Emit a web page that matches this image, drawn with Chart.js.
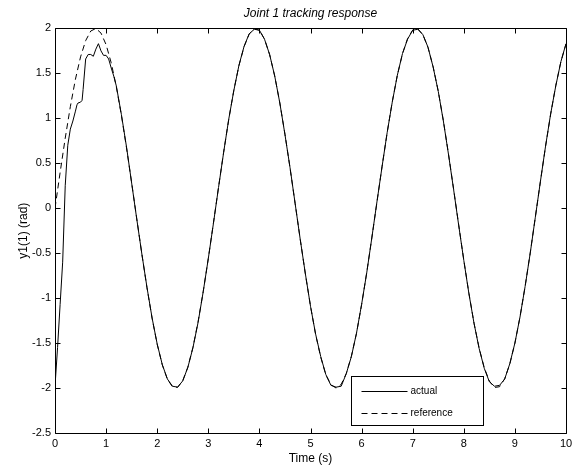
<!DOCTYPE html>
<html>
<head>
<meta charset="utf-8">
<script src="https://cdn.jsdelivr.net/npm/chart.js@4"></script>
<style>
html,body{margin:0;padding:0;background:#fff;}
#wrap{width:577px;height:472px;position:relative;}
</style>
</head>
<body>
<div id="wrap"><canvas id="c" width="577" height="472"></canvas></div>
<script>
const chartTitle = "Joint 1 tracking response";
const xTitle = "Time (s)";
const yTitle = "y1(1) (rad)";
const seriesNames = ["actual", "reference"];
const xTicks = [0,1,2,3,4,5,6,7,8,9,10];
const yTicks = [-2.5,-2,-1.5,-1,-0.5,0,0.5,1,1.5,2];

const refTime = [0,0.1,0.2,0.3,0.4,0.5,0.6,0.7,0.8,0.9,1,1.1,1.2,1.3,1.4,1.5,1.6,1.7,1.8,1.9,2,2.1,2.2,2.3,2.4,2.5,2.6,2.7,2.8,2.9,3,3.1,3.2,3.3,3.4,3.5,3.6,3.7,3.8,3.9,4,4.1,4.2,4.3,4.4,4.5,4.6,4.7,4.8,4.9,5,5.1,5.2,5.3,5.4,5.5,5.6,5.7,5.8,5.9,6,6.1,6.2,6.3,6.4,6.5,6.6,6.7,6.8,6.9,7,7.1,7.2,7.3,7.4,7.5,7.6,7.7,7.8,7.9,8,8.1,8.2,8.3,8.4,8.5,8.6,8.7,8.8,8.9,9,9.1,9.2,9.3,9.4,9.5,9.6,9.7,9.8,9.9,10];
const refValues = [0,0.397,0.779,1.129,1.435,1.683,1.864,1.971,1.999,1.948,1.819,1.617,1.351,1.031,0.670,0.282,-0.117,-0.511,-0.885,-1.224,-1.514,-1.743,-1.903,-1.987,-1.992,-1.918,-1.767,-1.546,-1.263,-0.929,-0.559,-0.166,0.233,0.623,0.988,1.314,1.587,1.797,1.936,1.997,1.979,1.881,1.709,1.469,1.170,0.824,0.446,0.050,-0.349,-0.733,-1.088,-1.405,-1.656,-1.852,-1.962,-2.000,-1.960,-1.839,-1.646,-1.392,-1.073,-0.716,-0.331,0.067,0.463,0.840,1.184,1.481,1.718,1.887,1.981,1.996,1.930,1.787,1.573,1.301,0.974,0.604,0.215,-0.185,-0.577,-0.946,-1.278,-1.556,-1.774,-1.922,-1.994,-1.985,-1.898,-1.733,-1.501,-1.208,-0.869,-0.496,-0.099,0.301,0.688,1.047,1.364,1.629,1.826];

const actEarlyTime = [0,0.05,0.1,0.15,0.2,0.25,0.3,0.35,0.4,0.43,0.45,0.5,0.53,0.55,0.6,0.65,0.7,0.75,0.8,0.85,0.9,0.95,1.0,1.05,1.1,1.15];
const actEarlyValues = [-1.98,-1.55,-1.07,-0.6,0.25,0.7,0.88,0.97,1.08,1.15,1.17,1.18,1.2,1.32,1.66,1.71,1.71,1.69,1.77,1.83,1.75,1.70,1.70,1.66,1.56,1.47];
const actLateTime = [1.2,1.3,1.4,1.5,1.6,1.7,1.8,1.9,2,2.1,2.2,2.3,2.4,2.5,2.6,2.7,2.8,2.9,3,3.1,3.2,3.3,3.4,3.5,3.6,3.7,3.8,3.9,4,4.1,4.2,4.3,4.4,4.5,4.6,4.7,4.8,4.9,5,5.1,5.2,5.3,5.4,5.5,5.6,5.7,5.8,5.9,6,6.1,6.2,6.3,6.4,6.5,6.6,6.7,6.8,6.9,7,7.1,7.2,7.3,7.4,7.5,7.6,7.7,7.8,7.9,8,8.1,8.2,8.3,8.4,8.5,8.6,8.7,8.8,8.9,9,9.1,9.2,9.3,9.4,9.5,9.6,9.7,9.8,9.9,10];
const actLateValues = [1.36,1.04,0.68,0.28,-0.12,-0.51,-0.88,-1.22,-1.51,-1.74,-1.90,-1.98,-1.99,-1.92,-1.77,-1.55,-1.27,-0.93,-0.56,-0.17,0.23,0.62,0.99,1.31,1.59,1.80,1.94,1.99,1.98,1.88,1.71,1.47,1.17,0.82,0.45,0.05,-0.35,-0.73,-1.09,-1.40,-1.65,-1.85,-1.97,-1.99,-1.98,-1.84,-1.65,-1.39,-1.07,-0.72,-0.33,0.07,0.46,0.84,1.18,1.48,1.72,1.88,1.98,1.99,1.93,1.79,1.57,1.30,0.97,0.60,0.21,-0.19,-0.58,-0.95,-1.28,-1.56,-1.78,-1.93,-1.98,-1.97,-1.90,-1.73,-1.50,-1.21,-0.87,-0.50,-0.10,0.30,0.69,1.05,1.36,1.63,1.83];

const actTime = actEarlyTime.concat(actLateTime);
const actValues = actEarlyValues.concat(actLateValues);
const toPts = (xs, ys) => xs.map((x, i) => ({x: x, y: ys[i]}));

const FONT = "'Liberation Sans', Arial, Helvetica, sans-serif";

const framePlugin = {
  id: 'frame',
  afterDatasetsDraw(chart) {
    const ctx = chart.ctx, a = chart.chartArea;
    const xs = chart.scales.x, ys = chart.scales.y;
    ctx.save();
    ctx.strokeStyle = '#000';
    ctx.lineWidth = 1;
    ctx.setLineDash([]);
    ctx.beginPath();
    const L = Math.round(a.left) + 0.5, R = Math.round(a.right) + 0.5;
    const T = Math.round(a.top) + 0.5, B = Math.round(a.bottom) + 0.5;
    ctx.rect(L, T, R - L, B - T);
    const tl = 5;
    xTicks.forEach(v => {
      const px = Math.round(xs.getPixelForValue(v)) + 0.5;
      ctx.moveTo(px, B); ctx.lineTo(px, B - tl);
      ctx.moveTo(px, T); ctx.lineTo(px, T + tl);
    });
    yTicks.forEach(v => {
      const py = Math.round(ys.getPixelForValue(v)) + 0.5;
      ctx.moveTo(L, py); ctx.lineTo(L + tl, py);
      ctx.moveTo(R, py); ctx.lineTo(R - tl, py);
    });
    ctx.stroke();

    // legend box
    const bx = Math.round(a.left + 296) + 0.5, by = Math.round(a.top + 348) + 0.5;
    const bw = 132, bh = 49;
    ctx.fillStyle = '#fff';
    ctx.fillRect(bx, by, bw, bh);
    ctx.strokeRect(bx, by, bw, bh);
    ctx.font = '10px ' + FONT;
    ctx.fillStyle = '#000';
    ctx.textBaseline = 'middle';
    ctx.textAlign = 'left';
    chart.data.datasets.forEach((ds, i) => {
      const yy = Math.round(by + 14 + i * 22) + 0.5;
      ctx.beginPath();
      ctx.setLineDash(ds.borderDash || []);
      ctx.moveTo(bx + 10, yy);
      ctx.lineTo(bx + 56, yy);
      ctx.stroke();
      ctx.setLineDash([]);
      ctx.fillText(ds.label, bx + 59, yy);
    });
    ctx.restore();
  }
};

new Chart(document.getElementById('c'), {
  type: 'line',
  data: {
    datasets: [
      { label: seriesNames[0], data: toPts(actTime, actValues), borderColor: '#000', borderWidth: 1, pointRadius: 0, tension: 0, fill: false },
      { label: seriesNames[1], data: toPts(refTime, refValues), borderColor: '#000', borderWidth: 1, borderDash: [6, 4], pointRadius: 0, tension: 0, fill: false }
    ]
  },
  options: {
    responsive: false,
    animation: false,
    devicePixelRatio: 1,
    layout: { padding: { left: 0, right: 11, top: 0, bottom: 0 } },
    plugins: {
      legend: { display: false },
      tooltip: { enabled: false },
      title: {
        display: true, text: chartTitle, color: '#000', fullSize: false,
        font: { family: FONT, size: 12, style: 'italic', weight: 'normal' },
        padding: { top: 6, bottom: 8 }
      }
    },
    scales: {
      x: {
        type: 'linear', min: 0, max: 10,
        afterFit(s) { s.height = 39; },
        afterBuildTicks(s) { s.ticks = xTicks.map(v => ({ value: v })); },
        grid: { display: false, drawTicks: false },
        border: { display: false },
        ticks: { color: '#000', font: { family: FONT, size: 11 }, padding: 4, maxRotation: 0, autoSkip: false,
          callback: v => String(v) },
        title: { display: true, text: xTitle, color: '#000', font: { family: FONT, size: 12 }, padding: { top: 0, bottom: 6 } }
      },
      y: {
        type: 'linear', min: -2.5, max: 2,
        afterFit(s) { s.width = 55; },
        afterBuildTicks(s) { s.ticks = yTicks.map(v => ({ value: v })); },
        grid: { display: false, drawTicks: false },
        border: { display: false },
        ticks: { color: '#000', font: { family: FONT, size: 11 }, padding: 4, autoSkip: false,
          callback: v => String(v) },
        title: { display: true, text: yTitle, color: '#000', font: { family: FONT, size: 12 }, padding: { top: 16, bottom: 0 } }
      }
    }
  },
  plugins: [framePlugin]
});
</script>
</body>
</html>
